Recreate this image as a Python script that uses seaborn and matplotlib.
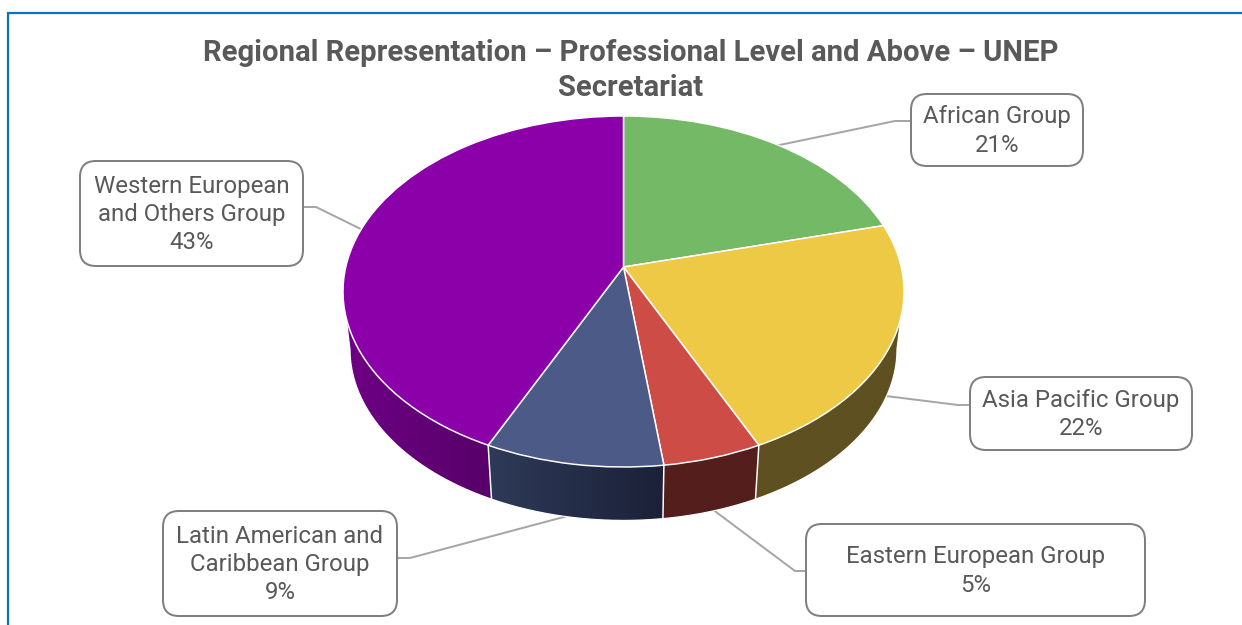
import numpy as np
import seaborn as sns
import matplotlib
matplotlib.use("Agg")
import matplotlib.pyplot as plt
from matplotlib.colors import to_rgb
from matplotlib.patches import FancyBboxPatch, Polygon
from matplotlib.transforms import Transform

regions = ["African Group", "Asia Pacific Group", "Eastern European Group",
           "Latin American and\nCaribbean Group", "Western European\nand Others Group"]
shares = [21, 22, 5, 9, 43]
top_colors = ["#74B966", "#EDC945", "#CD4D46", "#4C5A87", "#8B00A9"]
wall_left = ["#4A7540", "#5E5020", "#531E1C", "#2E3A58", "#6E0084"]
wall_right = ["#4A7540", "#5E5020", "#531E1C", "#1B2138", "#57006A"]
title = "Regional Representation – Professional Level and Above – UNEP\nSecretariat"

TEXT = "#595959"
PX = 72 / 100  # one pixel in points at 100 dpi

sns.set_theme(style="white")
plt.rcParams["font.family"] = ["Roboto", "DejaVu Sans"]

# Disc geometry in figure pixels: a tilted circle seen in perspective.
CX, CY, RX, RY = 623.5, 291.5, 280.5, 175.5
K = 0.1396
DEPTH, SHRINK = 57.8, 0.975


class DiscProjection(Transform):
    """Maps the unit-circle pie onto the perspective top face of the disc."""
    input_dims = output_dims = 2
    has_inverse = False
    is_separable = False

    def transform_non_affine(self, values):
        u, v = np.asarray(values).T
        w = 1 + K * v
        x = CX + RX * np.sqrt(1 - K ** 2) * u / w
        y = CY - RY * (v + K) / w
        return np.column_stack([x, y])


projection = DiscProjection()


def rim(theta_deg):
    t = np.radians(theta_deg)
    return projection.transform_non_affine(np.column_stack([np.cos(t), np.sin(t)]))


def lower_rim(points):
    out = points.copy()
    out[:, 0] = CX + SHRINK * (points[:, 0] - CX)
    out[:, 1] = CY + DEPTH + SHRINK * (points[:, 1] - CY)
    return out


fig, ax = plt.subplots(figsize=(12.42, 6.25), dpi=100)
fig.subplots_adjust(0, 0, 1, 1)
fig.patch.set_facecolor("white")

wedges, _ = ax.pie(shares, colors=top_colors, startangle=90, counterclock=False,
                   wedgeprops=dict(edgecolor="white", linewidth=1.5 * PX))

for wedge in wedges:
    wedge.set_transform(projection + ax.transData)
    wedge.set_zorder(6)

# Side wall: a horizontal colour ramp clipped to the front-facing band between
# the two rims. The band starts where the rim's x extreme is (sin(theta) = -K).
for wedge, c_left, c_right in zip(wedges, wall_left, wall_right):
    thetas = np.linspace(wedge.theta1, wedge.theta2, 400)
    keep = np.sin(np.radians(thetas)) < -K
    if keep.sum() < 2:
        continue
    upper = rim(thetas[keep])
    lower = lower_rim(upper)
    outline = np.vstack([upper, lower[::-1]])
    x_min, x_max = outline[:, 0].min(), outline[:, 0].max()
    y_min, y_max = outline[:, 1].min(), outline[:, 1].max()
    ramp = np.linspace(to_rgb(c_left), to_rgb(c_right), 128)[np.newaxis, :, :]
    image = ax.imshow(ramp, extent=(x_min, x_max, y_max, y_min), aspect="auto",
                      interpolation="bilinear", zorder=3)
    image.set_clip_path(Polygon(outline, closed=True, transform=ax.transData))

    # Thin white outline along the lower rim and up the silhouette tangents.
    edge = lower
    if not keep[0]:
        edge = np.vstack([upper[:1], edge])
    if not keep[-1]:
        edge = np.vstack([edge, upper[-1:]])
    ax.plot(edge[:, 0], edge[:, 1], color="white", lw=1.2 * PX, zorder=4)

# White seams down the wall at slice boundaries on the front of the disc.
for wedge in wedges:
    if np.sin(np.radians(wedge.theta1)) < 0:
        top = rim(np.array([wedge.theta1]))
        bottom = lower_rim(top)
        ax.plot([top[0, 0], bottom[0, 0]], [top[0, 1], bottom[0, 1]],
                color="white", lw=1.5 * PX, zorder=5)

# Callout boxes: left, top, right, bottom, then the leader polyline.
boxes = [(911, 94, 1083, 166), (970, 377, 1192, 450), (806, 524, 1145, 616),
         (163, 511, 397, 616), (80, 161, 303, 266)]
leaders = [[(770, 147), (895, 121), (911, 121)],
           [(870, 394), (958, 405), (970, 405)],
           [(700, 500), (795, 571), (806, 571)],
           [(590, 510), (410, 558), (397, 558)],
           [(375, 236), (316, 207), (303, 207)]]

for region, share, (x0, y0, x1, y1), path in zip(regions, shares, boxes, leaders):
    xs, ys = zip(*path)
    ax.plot(xs, ys, color="#A6A6A6", lw=2 * PX, zorder=2, solid_joinstyle="round")
    ax.add_patch(FancyBboxPatch((x0, y0), x1 - x0, y1 - y0,
                                boxstyle="round,pad=0,rounding_size=16",
                                facecolor="white", edgecolor="#7F7F7F",
                                linewidth=2 * PX, zorder=7))
    ax.text((x0 + x1) / 2, (y0 + y1) / 2 + 1, f"{region}\n{share}%", ha="center", va="center",
            fontsize=17.25, color=TEXT, linespacing=1.3, zorder=8)

ax.text(630.5, 70.5, title, ha="center", va="center", fontsize=21.1, fontweight="bold",
        color=TEXT, linespacing=1.3, zorder=9)

# Blue frame along the top and left of the panel.
ax.plot([8, 8, 1242], [625, 12.5, 12.5], color="#0A72C4", lw=2.2 * PX, zorder=1,
        solid_joinstyle="miter")

ax.set_aspect("auto")
ax.set_xlim(0, 1242)
ax.set_ylim(625, 0)
ax.axis("off")

fig.savefig("out.png", dpi=100, facecolor="white")
